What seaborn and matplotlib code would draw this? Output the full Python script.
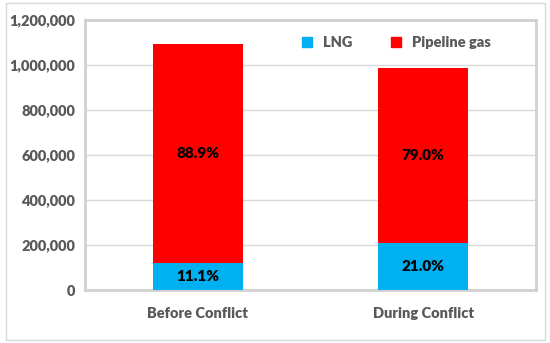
import pandas as pd
import seaborn as sns
from matplotlib import pyplot as plt
from matplotlib.lines import Line2D
from matplotlib.patches import Rectangle
from matplotlib.ticker import FuncFormatter

# Imports by period
periods = ["Before Conflict", "During Conflict"]
totals = [1095000, 985000]
lng_share = [11.1, 21.0]
pipe_share = [88.9, 79.0]
lng_values = [t * s / 100 for t, s in zip(totals, lng_share)]

colors = {"LNG": "#00B0F0", "Pipeline gas": "#FF0000"}
text_gray = "#595959"
grid_gray = "#D9D9D9"

df = pd.DataFrame({"period": periods, "total": totals, "lng": lng_values})

sns.set_style("white")
plt.rcParams["font.family"] = ["Lato", "DejaVu Sans"]

fig = plt.figure(figsize=(5.5, 3.43), dpi=100)
ax = fig.add_axes([0.1545, 0.1545, 0.82, 0.7872])

# Stacked bars: full height in pipeline colour, LNG drawn over the bottom
sns.barplot(df, x="period", y="total", color=colors["Pipeline gas"],
            width=0.4, saturation=1, linewidth=0, ax=ax, zorder=3)
sns.barplot(df, x="period", y="lng", color=colors["LNG"],
            width=0.4, saturation=1, linewidth=0, ax=ax, zorder=3)

# Percentage labels in the middle of each segment
for i, (tot, lng) in enumerate(zip(totals, lng_values)):
    ax.text(i, lng / 2, f"{lng_share[i]:.1f}%", ha="center", va="center",
            fontsize=11, fontweight="heavy", color="black", zorder=4)
    ax.text(i, lng + (tot - lng) / 2, f"{pipe_share[i]:.1f}%", ha="center",
            va="center", fontsize=11, fontweight="heavy", color="black", zorder=4)

ax.set_xlim(-0.5, 1.5)
ax.set_ylim(0, 1200000)
ax.set_yticks(range(0, 1200001, 200000))
ax.yaxis.set_major_formatter(FuncFormatter(lambda v, p: f"{int(v):,}"))
ax.set_xlabel("")
ax.set_ylabel("")
ax.grid(axis="y", color=grid_gray, linewidth=1, zorder=0)
ax.tick_params(axis="both", length=0, labelsize=10.5, labelcolor=text_gray, pad=7)
ax.tick_params(axis="x", pad=12)
for lab in ax.get_xticklabels() + ax.get_yticklabels():
    lab.set_fontweight("heavy")
for s in ax.spines.values():
    s.set_color("#D0D0D0")
    s.set_linewidth(2)

handles = [Line2D([], [], marker="s", linestyle="", markersize=7,
                  color=colors[k], label=k) for k in colors]
leg = ax.legend(handles=handles, ncol=2, frameon=False, loc="center",
                bbox_to_anchor=(0.68, 0.915), handletextpad=0.1,
                columnspacing=2.0, prop={"size": 10.5, "weight": "heavy"})
for t in leg.get_texts():
    t.set_color(text_gray)

# light outer border around the whole chart
fig.add_artist(Rectangle((0.01, 0.01), 0.98, 0.98, transform=fig.transFigure,
                         fill=False, edgecolor="#D9D9D9", linewidth=1))

fig.savefig("out.png", dpi=100)
plt.close()
